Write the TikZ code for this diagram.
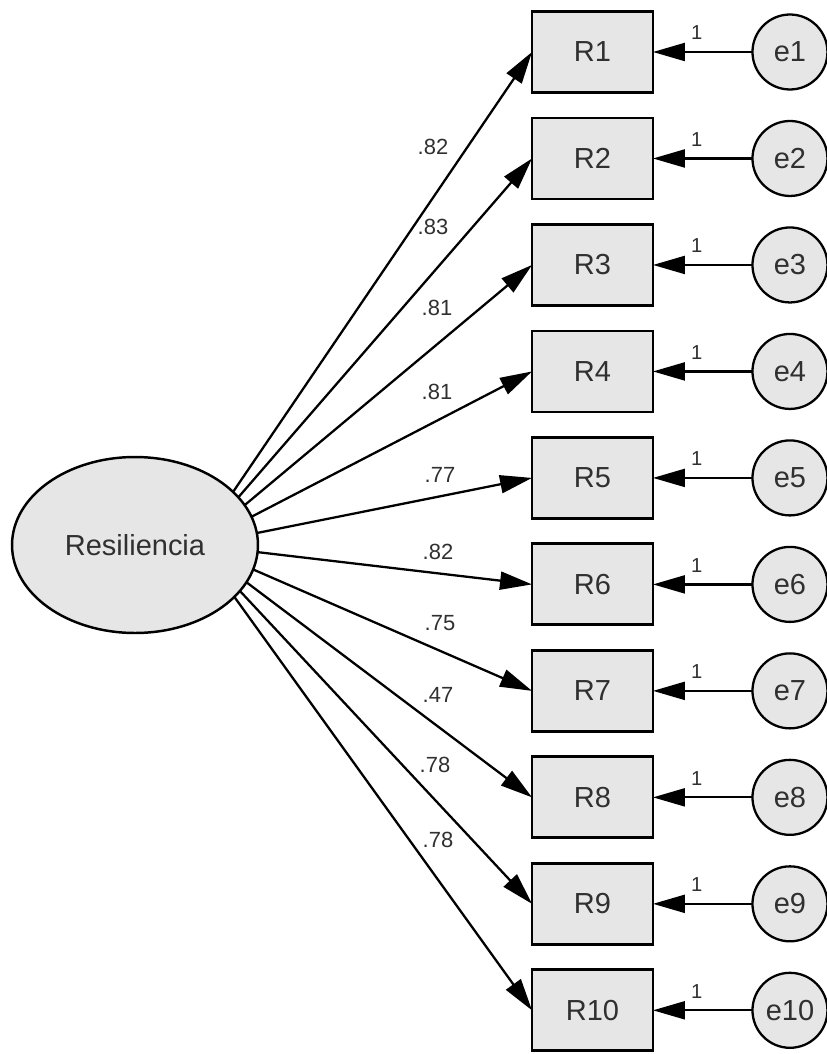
\documentclass[tikz,border=0pt]{standalone}
\usepackage{fontspec}
\setmainfont{Liberation Sans}
\usetikzlibrary{arrows.meta}
\usetikzlibrary{shapes.geometric}
\usetikzlibrary{positioning}
\definecolor{boxgray}{HTML}{E6E6E6}
\definecolor{inkgray}{HTML}{303030}
\tikzstyle{item} = [draw, rectangle, line width = 1.6pt, outer sep = 0pt, fill = boxgray, minimum width = 2.42cm, minimum height = 1.62cm, text = inkgray, font = \fontsize{16.5}{18}\selectfont]
\tikzstyle{err} = [draw, circle, line width = 1.3pt, outer sep = 0pt, fill = boxgray, minimum size = 1.5cm, inner sep = 0pt, text = inkgray, font = \fontsize{16.5}{18}\selectfont]
\tikzstyle{latent} = [draw, ellipse, line width = 1.4pt, fill = boxgray, minimum width = 4.92cm, minimum height = 3.52cm, text = inkgray, font = \fontsize{16.5}{18}\selectfont]
\tikzstyle{arrow} = [line width = 1.3pt, -{Triangle[length = 6.4mm, width = 3.6mm]}]
\tikzstyle{weight} = [text = inkgray, font = \fontsize{12.5}{14}\selectfont]
\tikzstyle{fixed} = [pos = 0.56, above = 3pt, text = inkgray, font = \fontsize{11.5}{13}\selectfont]

\begin{document}
\begin{tikzpicture}[x = 0.02cm, y = -0.02cm]
	\useasboundingbox (0,0) rectangle (826,1054);

	% Observed items
	\node[item] (R1) at (592.5,52) {R1};
	\node[item, below = 0.51 cm of R1] (R2) {R2};
	\node[item, below = 0.51 cm of R2] (R3) {R3};
	\node[item, below = 0.51 cm of R3] (R4) {R4};
	\node[item, below = 0.51 cm of R4] (R5) {R5};
	\node[item, below = 0.51 cm of R5] (R6) {R6};
	\node[item, below = 0.51 cm of R6] (R7) {R7};
	\node[item, below = 0.51 cm of R7] (R8) {R8};
	\node[item, below = 0.51 cm of R8] (R9) {R9};
	\node[item, below = 0.51 cm of R9] (R10) {R10};

	% Error terms
	\node[err, right = 1.99 cm of R1] (e1) {e1};
	\node[err, right = 1.99 cm of R2] (e2) {e2};
	\node[err, right = 1.99 cm of R3] (e3) {e3};
	\node[err, right = 1.99 cm of R4] (e4) {e4};
	\node[err, right = 1.99 cm of R5] (e5) {e5};
	\node[err, right = 1.99 cm of R6] (e6) {e6};
	\node[err, right = 1.99 cm of R7] (e7) {e7};
	\node[err, right = 1.99 cm of R8] (e8) {e8};
	\node[err, right = 1.99 cm of R9] (e9) {e9};
	\node[err, right = 1.99 cm of R10] (e10) {e10};

	% Factor loadings (start hidden under the ellipse)
	\coordinate (hub) at (197,545);
	\draw[arrow] (hub) -- (R1.west);
	\draw[arrow] (hub) -- (R2.west);
	\draw[arrow] (hub) -- (R3.west);
	\draw[arrow] (hub) -- (R4.west);
	\draw[arrow] (hub) -- (R5.west);
	\draw[arrow] (hub) -- (R6.west);
	\draw[arrow] (hub) -- (R7.west);
	\draw[arrow] (hub) -- (R8.west);
	\draw[arrow] (hub) -- (R9.west);
	\draw[arrow] (hub) -- (R10.west);

	% Latent factor
	\node[latent] (res) at (135,545) {Resiliencia};

	% Loading values
	\node[weight] (w1) at (433,147) {.82};
	\node[weight] (w2) at (433,227) {.83};
	\node[weight] (w3) at (437,308) {.81};
	\node[weight] (w4) at (437,392) {.81};
	\node[weight] (w5) at (440,475) {.77};
	\node[weight] (w6) at (438,552) {.82};
	\node[weight] (w7) at (440,623) {.75};
	\node[weight] (w8) at (438,695) {.47};
	\node[weight] (w9) at (435,765) {.78};
	\node[weight] (w10) at (438,840) {.78};

	% Error paths
	\draw[arrow] (e1) -- (R1) node[fixed] {1};
	\draw[arrow] (e2) -- (R2) node[fixed] {1};
	\draw[arrow] (e3) -- (R3) node[fixed] {1};
	\draw[arrow] (e4) -- (R4) node[fixed] {1};
	\draw[arrow] (e5) -- (R5) node[fixed] {1};
	\draw[arrow] (e6) -- (R6) node[fixed] {1};
	\draw[arrow] (e7) -- (R7) node[fixed] {1};
	\draw[arrow] (e8) -- (R8) node[fixed] {1};
	\draw[arrow] (e9) -- (R9) node[fixed] {1};
	\draw[arrow] (e10) -- (R10) node[fixed] {1};

\end{tikzpicture}
\end{document}
